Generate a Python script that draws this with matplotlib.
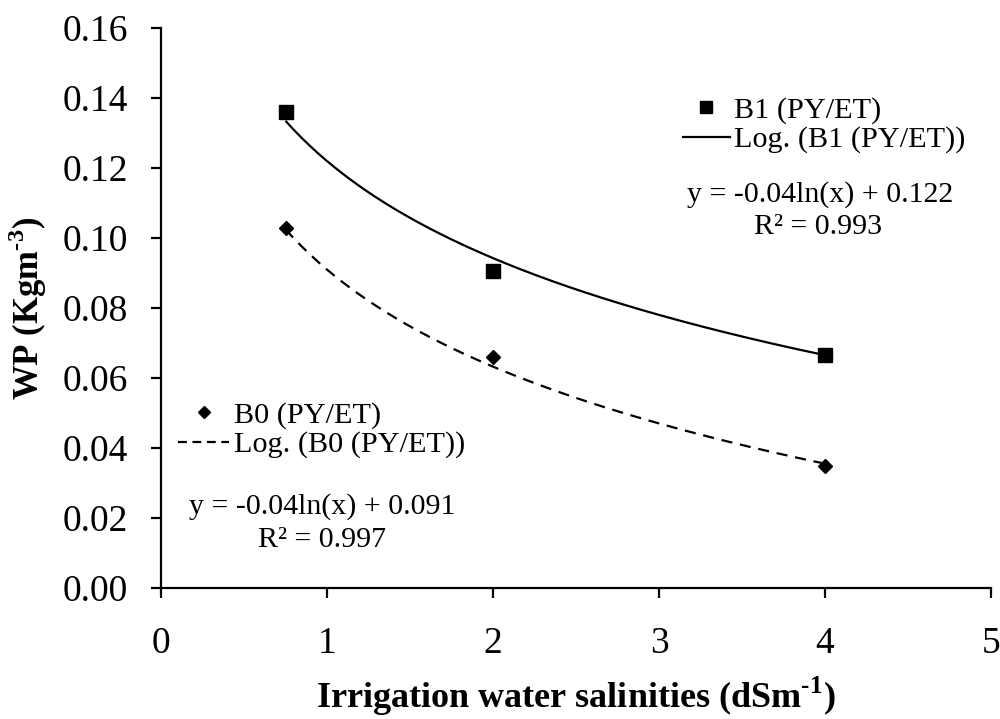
import numpy as np
import matplotlib
matplotlib.use("Agg")
import matplotlib.pyplot as plt
from matplotlib.lines import Line2D

# Water productivity vs irrigation water salinity
salinity = [0.75, 2, 4]
wp_b1 = [0.136, 0.0905, 0.0665]
wp_b0 = [0.103, 0.066, 0.035]

# Logarithmic trend coefficients: y = a*ln(x) + b
b1_a, b1_b, b1_r2 = -0.04, 0.122, 0.993
b0_a, b0_b, b0_r2 = -0.04, 0.091, 0.997

x_ticks = [0, 1, 2, 3, 4, 5]
y_ticks = [0.00, 0.02, 0.04, 0.06, 0.08, 0.10, 0.12, 0.14, 0.16]

plt.rcParams['font.family'] = ['Liberation Serif', 'DejaVu Serif']
plt.rcParams['mathtext.fontset'] = 'custom'
plt.rcParams['mathtext.rm'] = 'Liberation Serif'
plt.rcParams['mathtext.bf'] = 'Liberation Serif:bold'

fig = plt.figure(figsize=(10, 7.19), dpi=100)
ax = fig.add_axes([0.161, 0.182, 0.830, 0.779])

xs = np.linspace(min(salinity), max(salinity), 200)
ax.plot(xs, b1_a * np.log(xs) + b1_b, color='black', lw=1.6, solid_capstyle='butt')
ax.plot(xs, b0_a * np.log(xs) + b0_b, color='black', lw=1.6, linestyle=(0, (5, 3.5)))
ax.plot(salinity, wp_b1, linestyle='none', marker='s', ms=10, color='black', zorder=3)
ax.plot(salinity, wp_b0, linestyle='none', marker='D', ms=7, color='black', zorder=3)

ax.set_xlim(0, 5)
ax.set_ylim(0, 0.16)
ax.set_xticks(x_ticks)
ax.set_yticks(y_ticks)
ax.set_xticklabels([str(v) for v in x_ticks])
ax.set_yticklabels([f"{v:.2f}" for v in y_ticks])
ax.spines['top'].set_visible(False)
ax.spines['right'].set_visible(False)
for s in ('left', 'bottom'):
    ax.spines[s].set_linewidth(1.6)
ax.tick_params(axis='both', direction='out', length=7.5, width=1.6, labelsize=27, colors='black')
ax.tick_params(axis='y', pad=16)
ax.tick_params(axis='x', pad=20)

ax.set_xlabel("Irrigation water salinities (dSm$^{\\mathbf{\u20101}}$)", fontsize=26,
              fontweight='bold', labelpad=10)
ax.set_ylabel("WP (Kgm$^{\\mathbf{\u20103}}$)", fontsize=25, fontweight='bold', labelpad=10)

# Legends in the style of a spreadsheet trendline chart
h_b1 = [Line2D([], [], linestyle='none', marker='s', ms=9, color='black'),
        Line2D([], [], color='black', lw=1.6)]
leg1 = ax.legend(h_b1, ["B1 (PY/ET)", "Log. (B1 (PY/ET))"], frameon=False,
                 fontsize=21.8, handlelength=1.55, handletextpad=0.15, labelspacing=0.08,
                 borderpad=0, borderaxespad=0, loc='upper left',
                 bbox_to_anchor=(683 / 1000, 1 - 96 / 719), bbox_transform=fig.transFigure)
ax.add_artist(leg1)

h_b0 = [Line2D([], [], linestyle='none', marker='D', ms=6, color='black'),
        Line2D([], [], color='black', lw=1.6, linestyle=(0, (4, 2.5)))]
ax.legend(h_b0, ["B0 (PY/ET)", "Log. (B0 (PY/ET))"], frameon=False,
          fontsize=21.8, handlelength=1.7, handletextpad=0.15, labelspacing=0.08,
          borderpad=0, borderaxespad=0, loc='upper left',
          bbox_to_anchor=(178 / 1000, 1 - 401 / 719), bbox_transform=fig.transFigure)

fig.text(820 / 1000, 1 - 195 / 719, f"y = {b1_a:.2f}ln(x) + {b1_b:.3f}", fontsize=21.5,
         ha='center', va='center')
fig.text(818 / 1000, 1 - 227 / 719, f"R² = {b1_r2:.3f}", fontsize=21.5, ha='center', va='center')
fig.text(322 / 1000, 1 - 507 / 719, f"y = {b0_a:.2f}ln(x) + {b0_b:.3f}", fontsize=21.5,
         ha='center', va='center')
fig.text(322 / 1000, 1 - 540 / 719, f"R² = {b0_r2:.3f}", fontsize=21.5, ha='center', va='center')

fig.savefig("out.png", dpi=100, facecolor='white')
